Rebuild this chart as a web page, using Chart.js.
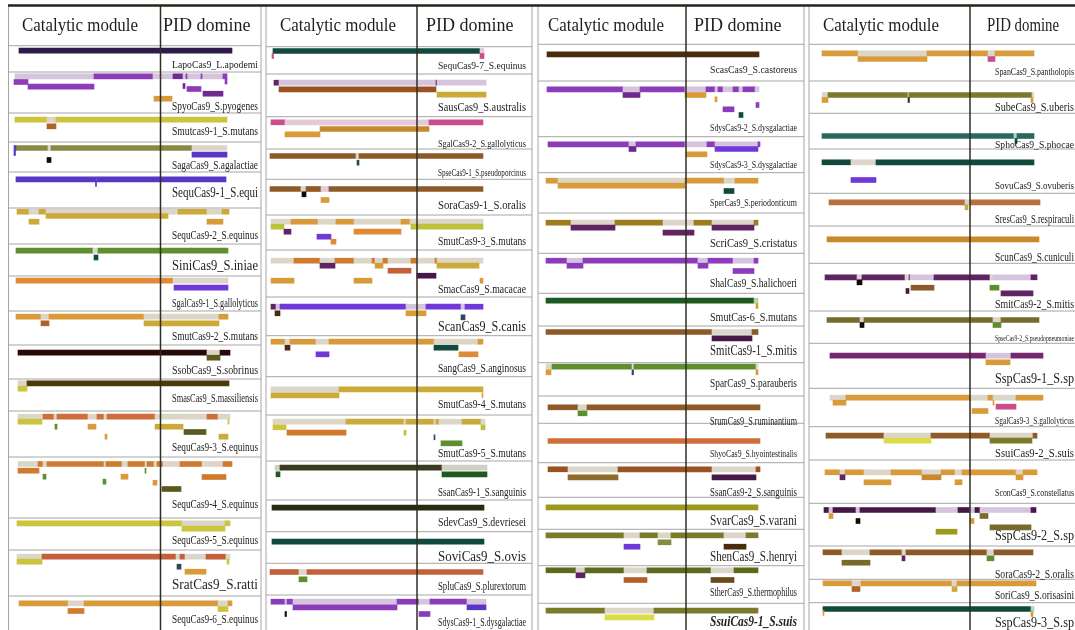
<!DOCTYPE html>
<html><head><meta charset="utf-8">
<script src="https://cdn.jsdelivr.net/npm/chart.js@4/dist/chart.umd.min.js"></script>
<style>html,body{margin:0;padding:0;background:#fff;overflow:hidden}#wrap{position:relative;width:1075px;height:630px}canvas{display:block}</style>
</head><body><div id="wrap"><canvas id="c" width="1075" height="630"></canvas></div>
<script>
// ---------- DATA ----------
const panel1Names = ['LapoCas9_L.apodemi','SpyoCas9_S.pyogenes','Smutcas9-1_S.mutans','SagaCas9_S.agalactiae','SequCas9-1_S.equi','SequCas9-2_S.equinus','SiniCas9_S.iniae','SgalCas9-1_S.gallolyticus','SmutCas9-2_S.mutans','SsobCas9_S.sobrinus','SmasCas9_S.massiliensis','SequCas9-3_S.equinus','SequCas9-4_S.equinus','SequCas9-5_S.equinus','SratCas9_S.ratti','SequCas9-6_S.equinus'];
const panel2Names = ['SequCas9-7_S.equinus','SausCas9_S.australis','SgalCas9-2_S.gallolyticus','SpseCas9-1_S.pseudoporcinus','SoraCas9-1_S.oralis','SmutCas9-3_S.mutans','SmacCas9_S.macacae','ScanCas9_S.canis','SangCas9_S.anginosus','SmutCas9-4_S.mutans','SmutCas9-5_S.mutans','SsanCas9-1_S.sanguinis','SdevCas9_S.devriesei','SoviCas9_S.ovis','SpluCas9_S.plurextorum','SdysCas9-1_S.dysgalactiae'];
const panel3Names = ['ScasCas9_S.castoreus','SdysCas9-2_S.dysgalactiae','SdysCas9-3_S.dysgalactiae','SperCas9_S.periodonticum','ScriCas9_S.cristatus','ShalCas9_S.halichoeri','SmutCas-6_S.mutans','SmitCas9-1_S.mitis','SparCas9_S.parauberis','SrumCas9_S.ruminantium','ShyoCas9_S.hyointestinalis','SsanCas9-2_S.sanguinis','SvarCas9_S.varani','ShenCas9_S.henryi','StherCas9_S.thermophilus','SsuiCas9-1_S.suis'];
const panel4Names = ['SpanCas9_S.pantholopis','SubeCas9_S.uberis','SphoCas9_S.phocae','SovuCas9_S.ovuberis','SresCas9_S.respiraculi','ScunCas9_S.cuniculi','SmitCas9-2_S.mitis','SpseCas9-2_S.pseudopneumoniae','SspCas9-1_S.sp','SgalCas9-3_S.gallolyticus','SsuiCas9-2_S.suis','SconCas9_S.constellatus','SspCas9-2_S.sp','SoraCas9-2_S.oralis','SoriCas9_S.orisasini','SspCas9-3_S.sp'];

// segments: [track, start, end, domainColourKey]
const panel1Segments = [
 [50.7,19,232,'dp'],
 [76.3,15,94,'ll'],[76.3,94,153,'pu'],[76.3,153,173,'ll'],[76.3,173,183,'pd'],[76.3,183,223,'ll'],[76.3,186,187,'pu'],[76.3,201,202,'pu'],[76.3,223,227,'pu'],
 [82,14,28,'pu'],[81.5,225,227,'pu'],[86.7,28,94,'pu'],[86,183,185,'pd'],[89,187,201,'pu'],[93.7,203,223,'pd'],[98.7,154,172,'ot'],
 [119.7,15,47,'ye'],[119.7,47,56,'lb'],[119.7,56,227,'ye'],[126.3,47,56,'bo'],
 [148,16,48,'ol'],[148,48,51,'lb'],[148,51,192,'ol'],[148,192,227,'lb'],[148,14,16,'bl'],[153,14,15.5,'bl'],[154.7,192,227,'bl'],[160,47,51,'bk'],
 [179.3,16,96,'bl'],[179.3,96.5,226,'bl'],[184,95.5,96.5,'bl'],
 [211.7,17,29,'go'],[211.7,29,39,'lb'],[211.7,39,46,'go'],[211.7,46,178,'lb'],[211.7,178,207,'go'],[211.7,207,222,'lb'],[211.7,222,229,'go'],
 [216,46,168,'go'],[221.7,29,39,'go'],[221.7,207,223,'ot'],
 [250.7,16,93,'gr'],[250.7,93,98,'lb'],[250.7,98,228,'gr'],[257.5,94,98,'tl'],
 [280.7,16,173,'or'],[280.7,173,228,'lb'],[287.7,174,228,'pv'],
 [316.7,16,41,'ot'],[316.7,41,49,'lb'],[316.7,49,144,'ot'],[316.7,144,219,'lb'],[316.7,219,228,'ot'],[323.3,41,49,'bo'],[323.3,144,219,'go'],
 [352.7,18,207,'dr'],[352.7,207,220,'lb'],[352.7,220,230,'dr'],[357.7,207,220,'do'],
 [383.3,18,27,'lb'],[383.3,27,229,'db2'],[388.7,18,27,'ye'],
 [416.7,18,43,'lb'],[416.7,43,54,'rd'],[416.7,54,57,'lb'],[416.7,57,88,'rd'],[416.7,88,97,'lb'],[416.7,97,104,'rd'],[416.7,104,107,'lb'],[416.7,107,155,'rd'],[416.7,155,207,'lb'],[416.7,207,218,'rd'],[416.7,218,230,'lb'],
 [421.7,18,42,'ye'],[421.7,228,229,'ye'],[426.7,55,57,'gr'],[426.7,88,96,'ot'],[426.7,155,183,'go'],[432,184,206,'do'],[436.7,105,107,'ot'],[436.7,219,228,'go'],
 [464,18,38,'lb'],[464,38,43,'or2'],[464,43,47,'lb'],[464,47,104,'or2'],[464,104,106,'lb'],[464,106,122,'or2'],[464,122,128,'lb'],[464,128,145,'or2'],[464,145,147,'lb'],[464,147,154,'or2'],[464,154,157,'lb'],[464,157,163,'or2'],[464,163,180,'lb'],[464,180,202,'or2'],[464,202,223,'lb'],[464,223,232,'or2'],
 [470.7,18,39,'or2'],[470.7,145,146,'gr'],[476.7,43,46,'gr'],[476.7,121,128,'ot'],[477,202,226,'or2'],[481.7,103,106,'gr'],[482.7,153,157,'ot'],[489,162,181,'do'],
 [523.3,17,182,'ye'],[523.3,182,225,'lb'],[523.3,225,230,'ye'],[528.7,182,225,'ye'],
 [556.7,17,42,'lb'],[556.7,42,176,'rd2'],[556.7,176,180,'lb'],[556.7,180,185,'rd2'],[556.7,185,206,'lb'],[556.7,206,226,'rd2'],[556.7,226,230,'lb'],
 [561.7,17,42,'ye'],[561.7,227,229,'ye'],[566.7,177,181,'tl2'],[571.7,185,206,'ot'],
 [603.3,19,68,'ot'],[603.3,68,84,'lb'],[603.3,84,218,'ot'],[603.3,218,228,'lb'],[603.3,228,232,'ot'],[609,218,228,'ye'],[611,68,84,'or2']
];
const panel2Segments = [
 [51,10,217,'tl'],[51,217,221,'lp'],[56,9,10.5,'pk'],[56,217,221,'pk'],
 [82.7,11,16,'mp'],[82.7,16,173,'ll'],[82.7,173,174,'mp'],[82.7,174,223,'ll'],[89.3,16,173,'br2'],[94.7,174,223,'go'],
 [122.3,8,22,'pk'],[122.3,22,166,'lp'],[122.3,166,220,'pk'],[129,57,166,'tn'],[134.3,22,57,'ot'],
 [156,7,93,'br'],[156,93,96,'lb'],[156,96,220,'br'],[162.7,94,96,'tl2'],
 [189,7,38,'br'],[189,38,43,'lb'],[189,43,58,'br'],[189,58,66,'lp'],[189,66,220,'br'],[194.3,39,43,'bk'],[200,58,66,'ot'],
 [221.7,8,28,'lb'],[221.7,28,55,'ot'],[221.7,55,73,'lb'],[221.7,73,91,'ot'],[221.7,91,138,'lb'],[221.7,138,147,'ot'],[221.7,147,220,'lb'],
 [226.7,8,21,'yg'],[226.7,148,220,'yg'],[231.7,21,28,'mp'],[231.7,91,138,'or'],[236.7,54,68,'pv'],[241.7,68,73,'or'],
 [260.7,8,31,'lb'],[260.7,31,57,'or2'],[260.7,57,72,'lb'],[260.7,72,91,'or2'],[260.7,91,109,'lb'],[260.7,109,112,'or2'],[260.7,112,120,'lb'],[260.7,120,125,'or2'],[260.7,125,148,'lb'],[260.7,148,154,'or2'],[260.7,154,172,'lb'],[260.7,172,174,'or2'],[260.7,174,220,'lb'],
 [265.7,57,72,'mp'],[265.7,112,120,'ot'],[265.7,174,216,'go'],[270.7,125,148,'rd2'],[275.7,154,173,'mp2'],[280.7,8,31,'ot'],[280.7,91,109,'ot'],[280.7,217,220,'ot'],
 [306.7,8,13,'mp'],[306.7,13,17,'ll'],[306.7,17,143,'pv'],[306.7,143,163,'ll'],[306.7,163,198,'pv'],[306.7,198,202,'ll'],[306.7,202,220,'pv'],[313.3,12,17,'db'],[313.3,143,163,'ot'],[317.3,198,202,'tl2'],
 [341.7,8,22,'ot'],[341.7,22,27,'lb'],[341.7,27,53,'ot'],[341.7,53,66,'lb'],[341.7,66,171,'ot'],[341.7,171,215,'lb'],[341.7,215,220,'ot'],[347.7,22,27,'db'],[347.7,171,195,'tl'],[354.3,53,66,'pv'],[354.3,196,215,'or'],
 [389.3,8,76,'lb'],[389.3,76,220,'go'],[395.3,8,76,'go'],[395.3,219,220,'go'],
 [421.7,10,83,'lb'],[421.7,83,141,'go'],[421.7,141,143,'lb'],[421.7,143,171,'go'],[421.7,171,173,'lb'],[421.7,173,176,'go'],[421.7,176,199,'lb'],[421.7,199,218,'go'],[421.7,218,222,'lb'],
 [427.3,10,23,'ye'],[427.3,218,222,'yg'],[432.7,24,83,'or2'],[432.7,141,143,'yg'],[437.3,171,172,'tl2'],[443.3,178,199,'gr'],
 [467.7,12,17,'lg'],[467.7,17,179,'dk'],[467.7,179,224,'lg'],[474.3,13,17,'dg'],[474.3,179,224,'dg'],
 [507.7,9,221,'dk2'],
 [541.7,9,221,'tl'],
 [572,7,36,'rd2'],[572,36,44,'lb'],[572,44,220,'rd2'],[579.3,36,44,'gr'],
 [601.7,8,22,'pu'],[601.7,22,24,'ll'],[601.7,24,30,'pu'],[601.7,30,134,'ll'],[601.7,134,156,'pu'],[601.7,156,167,'ll'],[601.7,167,204,'pu'],[601.7,204,223,'ll'],
 [607.3,30,134,'pu'],[607.3,204,223,'bl'],[614,22,23.5,'bk'],[614,156,167,'pu']
];
const panel3Segments = [
 [54.3,12,224,'db'],
 [89.3,12,88,'pu'],[89.3,88,105,'ll'],[89.3,105,150,'pu'],[89.3,150,171,'ll'],[89.3,171,180,'pu'],[89.3,180,183,'ll'],[89.3,183,188,'pu'],[89.3,188,198,'ll'],[89.3,198,204,'pu'],[89.3,204,208,'ll'],[89.3,208,220,'pu'],[89.3,220,224,'ll'],
 [95,88,105,'pd'],[95,150,171,'ot'],[99.3,180,182,'ot'],[105,221,224,'pu'],[109.3,188,199,'pu'],[115,204,208,'tl'],
 [144.3,13,94,'pu'],[144.3,94,101,'ll'],[144.3,101,150,'pu'],[144.3,150,172,'ll'],[144.3,172,180,'pu'],[144.3,180,223,'ll'],[144.3,223,225,'pu'],[149,94,101,'pd'],[149,180,223,'pv'],[154.3,151,172,'ot'],
 [180.7,11,23,'ot'],[180.7,23,150,'lb'],[180.7,150,189,'ot'],[180.7,189,200,'lb'],[180.7,200,223,'ot'],[185.7,23,150,'ot'],[191,189,199,'tl'],
 [222.7,11,36,'ok'],[222.7,36,80,'lb'],[222.7,80,128,'ok'],[222.7,128,159,'lb'],[222.7,159,177,'ok'],[222.7,177,219,'lb'],[222.7,219,223,'ok'],[227.7,36,80,'mp'],[227.7,177,219,'mp'],[232.7,128,159,'mp'],
 [260.7,11,32,'pu'],[260.7,32,48,'ll'],[260.7,48,163,'pu'],[260.7,163,173,'ll'],[260.7,173,198,'pu'],[260.7,198,219,'ll'],[260.7,219,223,'pu'],[265.7,32,48,'pu'],[265.7,163,173,'pu'],[271,198,219,'pu'],
 [300.7,11,219,'dg'],[300.7,219,223,'lgr'],[306,221,223,'ot'],
 [332,11,177,'br'],[332,177,217,'lb'],[332,217,223,'br'],[338.3,177,217,'mp2'],
 [366.7,11,17,'lb'],[366.7,17,97,'gr'],[366.7,97,99,'lb'],[366.7,99,221,'gr'],[366.7,221,223,'lb'],[372.3,11,16,'ot'],[372.3,97,98.5,'tl2'],[372.3,221,223,'ot'],
 [407.3,13,43,'br'],[407.3,43,52,'lb'],[407.3,52,225,'br'],[413.3,43,52,'gr'],
 [441,13,225,'rd'],
 [469.3,13,33,'br2'],[469.3,33,83,'lb'],[469.3,83,177,'br2'],[469.3,177,221,'lb'],[469.3,221,225,'br2'],[477.3,33,83,'ob'],[477.3,177,221,'mp2'],
 [507.3,11,223,'oy'],
 [535.3,11,89,'ol2'],[535.3,89,105,'lb'],[535.3,105,123,'ol2'],[535.3,123,136,'lb'],[535.3,136,189,'ol2'],[535.3,189,211,'lb'],[535.3,211,223,'ol2'],[542.3,123,136,'ol'],[546.7,89,105,'pv'],[546.7,189,211,'db'],
 [570.3,11,41,'og'],[570.3,41,50,'lb'],[570.3,50,89,'og'],[570.3,89,112,'lb'],[570.3,112,176,'og'],[570.3,176,199,'lb'],[570.3,199,223,'og'],[575.3,41,50,'mp'],[580,89,112,'bo'],[580,176,199,'ob2'],
 [610.7,11,70,'ol2'],[610.7,70,119,'lb'],[610.7,119,223,'ol2'],[617.3,70,119,'ly']
];
const panel4Segments = [
 [53.3,14,50,'ot'],[53.3,50,119,'lb'],[53.3,119,180,'ot'],[53.3,180,187,'lb'],[53.3,187,226,'ot'],[59,50,119,'ot'],[59,180,187,'pk'],
 [95,14,20,'lb'],[95,20,100,'ol2'],[95,100,101,'lb'],[95,101,224,'ol2'],[95,224,226,'lb'],[100,14,20,'ot'],[100,100,101.5,'dk'],[100,223,225,'ot'],
 [136,14,206,'tl3'],[136,206,209,'lt'],[136,209,226,'tl3'],[141,207,209,'tl'],
 [162.3,14,43,'tl'],[162.3,43,68,'lb'],[162.3,68,226,'tl'],[180,43,68,'pv'],
 [202.3,21,157,'bo2'],[202.3,157,162,'lb'],[202.3,162,232,'bo2'],[207.3,157,160,'go'],
 [239.3,19,231,'tn'],
 [277.3,17,49,'mp'],[277.3,49,54,'lp'],[277.3,54,97,'mp'],[277.3,97,101,'lb'],[277.3,101,102,'mp'],[277.3,102,126,'ll'],[277.3,126,182,'mp'],[277.3,182,185,'lb'],[277.3,185,223,'ll'],[277.3,223,229,'mp'],
 [282.3,49,54,'bk'],[287.7,103,126,'br'],[287.7,182,191,'gr'],[291,98,101,'mp2'],[293.3,193,225,'mp'],
 [320,19,52,'ob3'],[320,52,56,'lb'],[320,56,185,'ob3'],[320,185,193,'lb'],[320,193,231,'ob3'],[325,52,56,'bk'],[325,185,193,'gr'],
 [355.7,22,178,'mg'],[355.7,178,203,'ll'],[355.7,203,235,'mg'],[362.3,178,202,'ot'],
 [397.7,22,38,'lb'],[397.7,38,163,'ot'],[397.7,163,180,'lb'],[397.7,180,185,'ot'],[397.7,185,208,'lb'],[397.7,208,235,'ot'],[402.7,25,38,'ot'],[402.7,185,186,'ot'],[406.7,188,208,'pk'],[411,164,180,'ot'],
 [435.7,18,76,'br'],[435.7,76,123,'lb'],[435.7,123,182,'br'],[435.7,182,225,'lb'],[435.7,225,229,'br'],[440.7,76,123,'ly'],[440.7,182,224,'ol2'],
 [472.3,17,32,'ot'],[472.3,32,37,'lb'],[472.3,37,56,'ot'],[472.3,56,83,'lb'],[472.3,83,114,'ot'],[472.3,114,133,'lb'],[472.3,133,147,'ot'],[472.3,147,154,'lb'],[472.3,154,208,'ot'],[472.3,208,215,'lb'],[472.3,215,229,'ot'],
 [477.3,32,37,'mp'],[477.3,114,133,'tn'],[477.3,208,215,'ot'],[482.3,56,83,'ot'],[482.3,147,154,'ot'],
 [510,16,21,'mp2'],[510,21,25,'ll'],[510,25,48,'mp2'],[510,48,52,'ll'],[510,52,128,'mp2'],[510,128,150,'ll'],[510,150,162,'mp2'],[510,162,167,'ll'],[510,167,172,'mp2'],[510,172,223,'ll'],[510,223,228,'mp2'],
 [516,21,25,'ot'],[516,172,180,'ob3'],[521,48,52,'bk'],[521,162,166,'ot'],[527.3,182,223,'ob3'],[531.7,128,149,'oy'],
 [552.3,15,34,'br'],[552.3,34,62,'lb'],[552.3,62,94,'br'],[552.3,94,98,'lb'],[552.3,98,179,'br'],[552.3,179,186,'lb'],[552.3,186,225,'br'],[558.3,94,97,'mp'],[558.3,179,186,'gr'],[562.7,34,62,'ob3'],
 [583.3,15,44,'ot'],[583.3,44,53,'lb'],[583.3,53,144,'ot'],[583.3,144,149,'lb'],[583.3,149,228,'ot'],[589,44,52,'bo'],[589,144,149,'go'],
 [609,15,223,'tl'],[609,223,226,'lt'],[613,15,16,'ot'],[614,223,225,'ot']
];

// ---------- STYLE / LAYOUT ----------
const palette = {
 lb:'#dcd6c8', ll:'#d4c4dc', lp:'#e4cad6', lg:'#cfcfc6', lgr:'#b0d8a0', lt:'#a8d8cc',
 dp:'#301a4c', pu:'#8c3cba', pd:'#6e2a8e', pv:'#7038d8', bl:'#5a36c6', mp:'#5e2562', mp2:'#461848', mg:'#76286e',
 ye:'#cbc43c', ly:'#dcdc48', yg:'#bcc23a', go:'#cbaa3a', ot:'#d99a3a', or:'#e08a38', or2:'#cf7a2c', tn:'#c8882c',
 rd:'#d06e3a', rd2:'#c2603a', bo:'#b0622a', bo2:'#b8703c', br:'#8e5a28', br2:'#9a5222',
 ob:'#8c6c2a', ob2:'#6a4a1a', ob3:'#786a2a', ok:'#9c7c1c', oy:'#9c9a1c',
 ol:'#878a43', ol2:'#7a7a2a', og:'#5c6a1c', do:'#5a5a1e', dk:'#3a3a1e', dk2:'#2a2a12',
 db:'#4a2c0c', db2:'#4d3a0c', bk:'#140808', dr:'#2a0808',
 gr:'#5f8e2e', dg:'#1c5a22', tl:'#114a3c', tl2:'#2a4a5a', tl3:'#2a6a5e', pk:'#cc4c8c'
};
const panels = [
 {names:panel1Names, segs:panel1Segments, offset:0, left:8.5, div:160.5, right:261, labelX:172, labelW:86, catX:22, pidX:163, pidW:88,
  rows:[45.7,72,113,142,172,208,244,276,311,345,379,411,457,518,550,596],
  labelY:[65,107,132,166,193,236,266,303.7,337,370.7,399,448,505,540.7,585.7,620],
  labelSize:[11,12,12,12,14,12,14,12,12,13,12,12,13,13,14,12]},
 {names:panel2Names, segs:panel2Segments, offset:263, left:266, div:417, right:532, labelX:438, labelW:88, catX:280, pidX:426, pidW:88,
  rows:[46.7,74,116.7,149,179.3,215,250,297,335.7,376.7,415,461,500,531.7,563.3,595],
  labelY:[66,108,144,173,206,242,290,327.7,369,405,454,492.7,522.7,557.7,586.7,623],
  labelSize:[11,12,11,10,13,13,13,14,13,13,12,12,13,14,12,12]},
 {names:panel3Names, segs:panel3Segments, offset:535, left:538, div:686, right:804, labelX:710, labelW:87, catX:548, pidX:694, pidW:90,
  rows:[44.3,81,136.7,172.7,213,253.3,293.3,326,362.7,396,423.3,462.7,497.3,529.3,565.7,603.3],
  labelY:[70,127.7,165,203.3,244,284,317.3,351.7,384,421.7,454.3,492.7,521.7,557.3,593.3,622.7],
  labelSize:[11,11,11,11,13,13,13,14,12,12,11,12,14,14,12,14]},
 {names:panel4Names, segs:panel4Segments, offset:808, left:809, div:970, right:1090, labelX:995, labelW:79, catX:823, pidX:987, pidW:72,
  rows:[44.3,81,113.3,149,193.3,226,263.3,311,343.3,388.3,426.7,460,503.3,546,579.3,602.7],
  labelY:[72.7,107.7,145.3,186,220,257.3,305,339,379.3,421,453.3,493.3,536.7,575,596,623],
  labelSize:[10,13,11,11,12,13,13,9,14,10,13,10,14,13,12,14]}
];
const emphasised = ['SsuiCas9-1_S.suis'];
const SERIF = '"Liberation Serif","Times New Roman",serif';

const barData = [], barColors = [];
panels.forEach(p => p.segs.forEach(([t, a, b, c]) => {
  barData.push({x: [p.offset + a, p.offset + b], y: t});
  barColors.push(palette[c]);
}));

const framePlugin = {
  id: 'frame',
  beforeDraw(chart) {
    const c = chart.ctx; c.save(); c.fillStyle = '#fff'; c.fillRect(0, 0, chart.width, chart.height); c.restore();
  },
  afterDatasetsDraw(chart) {
    const c = chart.ctx, xs = chart.scales.x, ys = chart.scales.y;
    const X = v => xs.getPixelForValue(v), Y = v => ys.getPixelForValue(v);
    const line = (x1, y1, x2, y2) => { c.beginPath(); c.moveTo(x1, y1); c.lineTo(x2, y2); c.stroke(); };
    c.save();
    panels.forEach(p => {
      c.strokeStyle = '#a6a6a6'; c.lineWidth = 1;
      p.rows.forEach(t => line(X(p.left), Y(t), X(Math.min(p.right, 1075)), Y(t)));
      line(X(p.left), Y(6), X(p.left), Y(630));
      if (p.right < 1075) line(X(p.right), Y(6), X(p.right), Y(630));
      c.strokeStyle = '#2e2e22'; c.lineWidth = 1.5;
      line(X(p.div), Y(6), X(p.div), Y(630));
      c.fillStyle = '#1e1e1e'; c.textBaseline = 'middle'; c.textAlign = 'left';
      c.font = '18px ' + SERIF;
      c.fillText('Catalytic module', X(p.catX), Y(26.5), 116);
      c.fillText('PID domine', X(p.pidX), Y(26.5), p.pidW);
      p.names.forEach((n, i) => {
        const em = emphasised.includes(n);
        c.font = (em ? 'italic bold ' : '') + p.labelSize[i] + 'px ' + SERIF;
        c.fillStyle = '#222';
        c.fillText(n, X(p.labelX), Y(p.labelY[i]), p.labelW);
      });
    });
    c.strokeStyle = '#24241a'; c.lineWidth = 2.5;
    line(X(8), Y(5.5), X(1075), Y(5.5));
    c.restore();
  }
};

new Chart(document.getElementById('c'), {
  type: 'bar',
  data: { datasets: [{ data: barData, backgroundColor: barColors, borderWidth: 0, barThickness: 5, borderSkipped: false }] },
  options: {
    indexAxis: 'y', responsive: false, devicePixelRatio: 1, animation: false,
    layout: { padding: 0 },
    plugins: { legend: { display: false }, tooltip: { enabled: false } },
    scales: {
      x: { type: 'linear', min: 0, max: 1075, display: false },
      y: { type: 'linear', min: 0, max: 630, reverse: true, offset: false, display: false, grid: { offset: false } }
    }
  },
  plugins: [framePlugin]
});
</script></body></html>
